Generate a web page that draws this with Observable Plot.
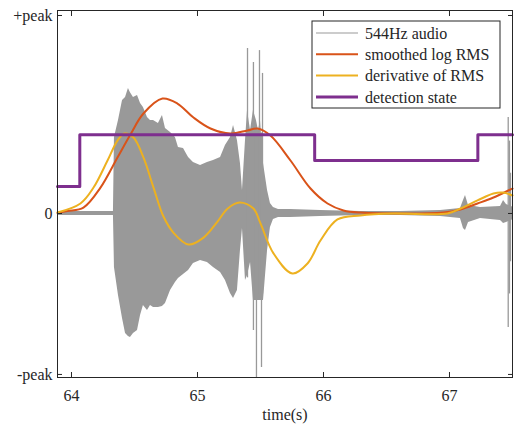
<!DOCTYPE html>
<html>
<head>
<meta charset="utf-8">
<script src="https://cdn.jsdelivr.net/npm/d3@7"></script>
<script src="https://cdn.jsdelivr.net/npm/@observablehq/plot@0.6"></script>
<style>
  body { margin: 0; background: #fff; font-family: "Liberation Serif", serif; }
</style>
</head>
<body>
<div id="chart"></div>
<script>
// ---- data ----
// audio envelope: time (s), upper, lower
const audioT  = [63.889, 64.333, 64.341, 64.373, 64.405, 64.429, 64.452, 64.468, 64.492, 64.524, 64.548, 64.571, 64.603, 64.627, 64.651, 64.690, 64.722, 64.746, 64.786, 64.825, 64.849, 64.889, 64.929, 64.968, 65.024, 65.079, 65.127, 65.183, 65.222, 65.262, 65.286, 65.317, 65.341, 65.357, 65.381, 65.397, 65.421, 65.444, 65.468, 65.484, 65.500, 65.524, 65.556, 65.579, 65.603, 65.643, 65.738, 65.976, 66.294, 66.611, 66.929, 67.087, 67.111, 67.127, 67.151, 67.246, 67.405, 67.429, 67.452, 67.500];
const audioHi = [0.012, 0.012, 0.472, 0.578, 0.702, 0.720, 0.776, 0.750, 0.720, 0.733, 0.683, 0.658, 0.596, 0.578, 0.578, 0.559, 0.609, 0.528, 0.503, 0.472, 0.410, 0.404, 0.348, 0.317, 0.298, 0.317, 0.329, 0.348, 0.422, 0.472, 0.547, 0.453, 0.311, 0.143, 0.453, 0.640, 0.516, 0.640, 0.578, 0.516, 0.578, 0.311, 0.143, 0.062, 0.037, 0.025, 0.025, 0.019, 0.012, 0.012, 0.019, 0.031, 0.081, 0.112, 0.050, 0.037, 0.043, 0.081, 0.056, 0.040];
const audioLo = [-0.012, -0.012, -0.335, -0.509, -0.652, -0.745, -0.764, -0.770, -0.745, -0.727, -0.634, -0.571, -0.602, -0.571, -0.584, -0.584, -0.578, -0.559, -0.478, -0.429, -0.404, -0.379, -0.354, -0.311, -0.292, -0.304, -0.335, -0.366, -0.416, -0.497, -0.528, -0.478, -0.230, -0.093, -0.416, -0.385, -0.304, -0.540, -0.540, -0.540, -0.540, -0.540, -0.230, -0.087, -0.037, -0.025, -0.025, -0.019, -0.012, -0.012, -0.019, -0.031, -0.093, -0.106, -0.056, -0.031, -0.043, -0.062, -0.056, -0.040];
// isolated audio spikes: time, lower, upper
const spikeT  = [65.397, 65.444, 65.468, 65.492, 65.508, 65.516, 67.466, 67.476, 67.484];
const spikeLo = [-0.400, -0.727, -1.019, -0.500, -0.957, -0.500, -0.708, -0.500, -0.300];
const spikeHi = [1.025, 0.938, 0.500, 1.012, 0.500, 0.870, 0.596, 0.450, 0.250];

// smoothed log RMS
const rmsT = [63.889, 63.968, 64.095, 64.230, 64.365, 64.468, 64.571, 64.722, 64.841, 64.968, 65.103, 65.262, 65.397, 65.476, 65.579, 65.738, 65.897, 66.032, 66.159, 66.294, 66.952, 67.087, 67.222, 67.349, 67.484, 67.500];
const rmsV = [0.003, 0.015, 0.037, 0.161, 0.348, 0.491, 0.621, 0.714, 0.683, 0.596, 0.528, 0.497, 0.516, 0.528, 0.484, 0.329, 0.155, 0.062, 0.019, 0.006, 0.006, 0.025, 0.062, 0.099, 0.149, 0.155];

// derivative of RMS
const derT = [63.889, 64.071, 64.175, 64.286, 64.365, 64.421, 64.492, 64.571, 64.651, 64.730, 64.810, 64.929, 65.048, 65.159, 65.238, 65.333, 65.444, 65.500, 65.603, 65.754, 65.873, 65.976, 66.111, 66.294, 66.556, 66.984, 67.087, 67.222, 67.349, 67.421, 67.500];
const derV = [0.006, 0.062, 0.161, 0.329, 0.453, 0.497, 0.472, 0.348, 0.161, -0.019, -0.120, -0.193, -0.150, -0.050, 0.030, 0.068, 0.031, -0.062, -0.248, -0.373, -0.311, -0.168, -0.037, -0.012, 0.000, 0.000, 0.031, 0.081, 0.124, 0.130, 0.112];

// detection state (step)
const stateT = [63.889, 64.066, 65.930, 67.225, 67.500];
const stateV = [0.168, 0.489, 0.329, 0.489, 0.489];

// axes
const xTicks = [64, 65, 66, 67];
const xTickLabels = ["64", "65", "66", "67"];
const yTicks = [-1, 0, 1.23];
const yTickLabels = ["-peak", "0", "+peak"];
const xDomain = [63.889, 67.5];
const yDomain = [-1.019, 1.261];

// legend
const seriesNames = ["544Hz audio", "smoothed log RMS", "derivative of RMS", "detection state"];
const seriesColors = ["#999999", "#D95319", "#EDB120", "#7E2F8E"];
const seriesWidths = [1, 2, 2, 3];

// ---- tables ----
const audio = audioT.map((t, i) => ({t, hi: audioHi[i], lo: audioLo[i]}));
const spikes = spikeT.map((t, i) => ({t, lo: spikeLo[i], hi: spikeHi[i]}));
const rms = rmsT.map((t, i) => ({t, v: rmsV[i]}));
const der = derT.map((t, i) => ({t, v: derV[i]}));
const state = stateT.map((t, i) => ({t, v: stateV[i]}));

const axisColor = "#262626";
const fs = 16;
const serif = "Liberation Serif";

const svg = Plot.plot({
  width: 518,
  height: 425,
  marginLeft: 57,
  marginRight: 6,
  marginTop: 10,
  marginBottom: 48,
  style: {fontFamily: serif, fontSize: fs + "px", color: axisColor, background: "#fff"},
  x: {domain: xDomain},
  y: {domain: yDomain},
  marks: [
    Plot.areaY(audio, {x: "t", y1: "lo", y2: "hi", fill: seriesColors[0], curve: "linear"}),
    Plot.ruleX(spikes, {x: "t", y1: "lo", y2: "hi", stroke: seriesColors[0], strokeWidth: 1.3}),
    Plot.line(rms, {x: "t", y: "v", stroke: seriesColors[1], strokeWidth: seriesWidths[1], curve: "catmull-rom"}),
    Plot.line(der, {x: "t", y: "v", stroke: seriesColors[2], strokeWidth: seriesWidths[2], curve: "catmull-rom"}),
    Plot.line(state, {x: "t", y: "v", stroke: seriesColors[3], strokeWidth: seriesWidths[3], curve: "step-after"}),
    Plot.frame({stroke: axisColor, strokeWidth: 1}),
    // labels
    Plot.axisX(xTicks, {anchor: "bottom", tickSize: 0, tickPadding: 12, fontSize: fs, fontFamily: serif, tickFormat: (d, i) => xTickLabels[i], label: "time(s)", labelAnchor: "center", labelArrow: "none", labelOffset: 42}),
    Plot.axisY(yTicks, {anchor: "left", tickSize: 0, tickPadding: 5, fontSize: fs, fontFamily: serif, tickFormat: (d, i) => yTickLabels[i], label: null}),
    // inward ticks on all four sides
    Plot.axisX(xTicks, {anchor: "bottom", tickSize: -5, text: null, label: null}),
    Plot.axisX(xTicks, {anchor: "top", tickSize: -5, text: null, label: null}),
    Plot.axisY(yTicks, {anchor: "left", tickSize: -5, text: null, label: null}),
    Plot.axisY(yTicks, {anchor: "right", tickSize: -5, text: null, label: null})
  ]
});

// legend box drawn inside the plot
const lg = d3.select(svg).append("g")
  .attr("font-family", serif).attr("font-size", fs).attr("text-anchor", "start");
lg.append("rect").attr("x", 312).attr("y", 21).attr("width", 188).attr("height", 87)
  .attr("fill", "#fff").attr("stroke", axisColor).attr("stroke-width", 1);
seriesNames.forEach((name, i) => {
  const y = 33 + i * 21.3;
  lg.append("line").attr("x1", 316).attr("x2", 358).attr("y1", y).attr("y2", y)
    .attr("stroke", seriesColors[i]).attr("stroke-width", seriesWidths[i]);
  lg.append("text").attr("x", 365).attr("y", y).attr("dy", "0.35em")
    .attr("text-anchor", "start").attr("fill", axisColor).text(name);
});

document.getElementById("chart").appendChild(svg);
</script>
</body>
</html>
